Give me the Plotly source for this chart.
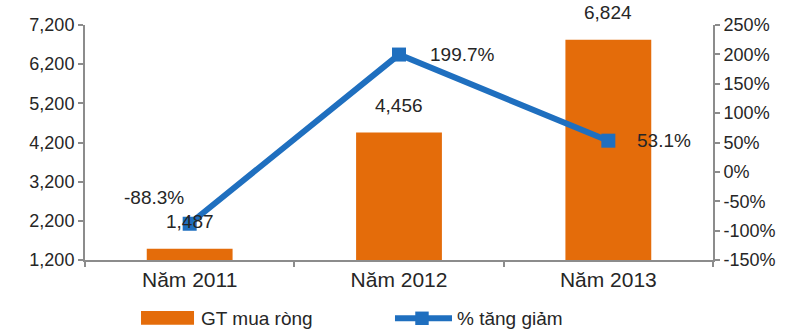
import plotly.graph_objects as go

categories = ["Năm 2011", "Năm 2012", "Năm 2013"]
net_buy = [1487, 4456, 6824]          # GT mua ròng
pct_change = [-88.3, 199.7, 53.1]     # % tăng giảm

left_ticks = [1200, 2200, 3200, 4200, 5200, 6200, 7200]
right_ticks = [-150, -100, -50, 0, 50, 100, 150, 200, 250]
left_tick_text = [f"{v:,}" for v in left_ticks]
right_tick_text = [f"{v}%" for v in right_ticks]   # plain hyphen for negatives

bar_labels = [f"{v:,}" for v in net_buy]
pct_labels = [f"{v:.1f}%" for v in pct_change]

ORANGE = "#E46C0A"
BLUE = "#1F6FBF"
AXIS = "#8C8C8C"
TEXT = "#262626"
FONT = "Liberation Sans, Arial, sans-serif"

fig = go.Figure()
fig.add_trace(go.Bar(
    x=categories, y=net_buy, name="GT mua ròng",
    marker=dict(color=ORANGE, line=dict(width=0)),
    width=0.41,
))
fig.add_trace(go.Scatter(
    x=categories, y=pct_change, name="% tăng giảm", yaxis="y2",
    mode="lines+markers",
    line=dict(color=BLUE, width=6),
    marker=dict(symbol="square", size=14, color=BLUE),
))

annotations = []
for c, v, t in zip(categories, net_buy, bar_labels):
    annotations.append(dict(x=c, y=v, xref="x", yref="y", text=t,
                            showarrow=False, yshift=27,
                            font=dict(size=19, color=TEXT)))
offsets = [(-36, 26), (63, 0), (56, 0)]
for c, v, t, (dx, dy) in zip(categories, pct_change, pct_labels, offsets):
    annotations.append(dict(x=c, y=v, xref="x", yref="y2", text=t,
                            showarrow=False, xshift=dx, yshift=dy,
                            font=dict(size=19, color=TEXT)))

# Legend drawn below the plot area (paper coordinates)
LEG_Y = -0.248
annotations += [
    dict(x=0.181, y=LEG_Y, xref="paper", yref="paper", text="GT mua ròng",
         showarrow=False, xanchor="left", yanchor="middle",
         font=dict(size=19, color=TEXT)),
    dict(x=0.589, y=LEG_Y, xref="paper", yref="paper", text="% tăng giảm",
         showarrow=False, xanchor="left", yanchor="middle",
         font=dict(size=19, color=TEXT)),
]
shapes = [
    dict(type="rect", xref="paper", yref="paper",
         x0=0.0892, x1=0.1736, y0=-0.276, y1=-0.2166,
         fillcolor=ORANGE, line=dict(width=0)),
    dict(type="line", xref="paper", yref="paper",
         x0=0.4936, x1=0.5844, y0=LEG_Y, y1=LEG_Y,
         line=dict(color=BLUE, width=6)),
    dict(type="rect", xref="paper", yref="paper",
         x0=0.5366 - 0.0107, x1=0.5366 + 0.0107, y0=LEG_Y - 0.0286, y1=LEG_Y + 0.0286,
         fillcolor=BLUE, line=dict(width=0)),
]

fig.update_layout(
    width=799, height=329,
    margin=dict(l=85, r=86, t=25, b=69, autoexpand=False),
    paper_bgcolor="white", plot_bgcolor="white",
    font=dict(family=FONT, size=17, color=TEXT),
    showlegend=False,
    xaxis=dict(
        showline=True, linecolor=AXIS, linewidth=2,
        ticks="outside", tickson="boundaries", ticklen=5, tickcolor=AXIS, tickwidth=2,
        tickfont=dict(size=21), showgrid=False,
    ),
    yaxis=dict(
        range=[1200, 7200], tickmode="array", tickvals=left_ticks, ticktext=left_tick_text,
        showline=True, linecolor=AXIS, linewidth=2,
        ticks="outside", ticklen=5, tickcolor=AXIS, tickwidth=2,
        showgrid=False, zeroline=False, tickfont=dict(size=18),
    ),
    yaxis2=dict(
        range=[-150, 250], tickmode="array", tickvals=right_ticks, ticktext=right_tick_text,
        overlaying="y", side="right",
        showline=True, linecolor=AXIS, linewidth=2,
        ticks="outside", ticklen=5, tickcolor=AXIS, tickwidth=2,
        showgrid=False, zeroline=False, tickfont=dict(size=18),
    ),
    shapes=shapes,
    annotations=annotations,
)

fig.write_html("out.html")
